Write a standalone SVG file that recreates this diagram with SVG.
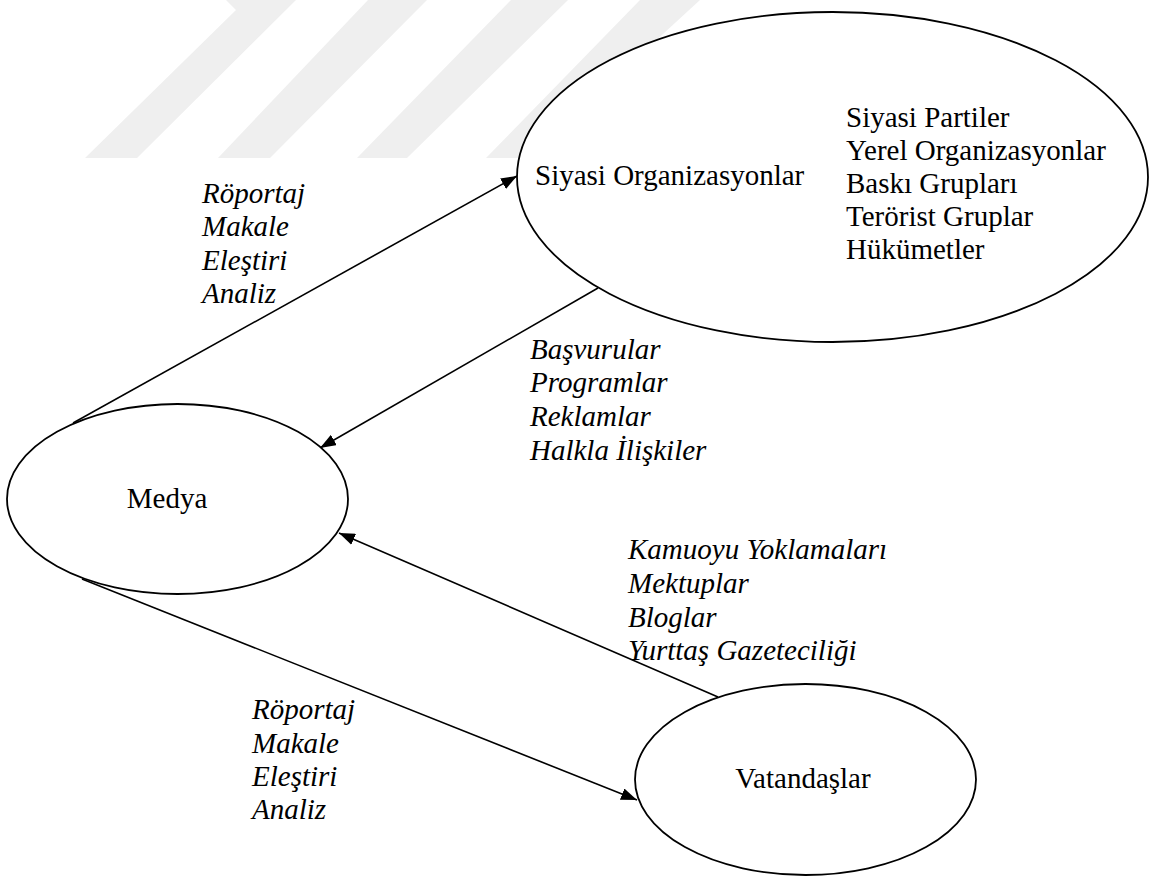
<svg xmlns="http://www.w3.org/2000/svg" width="1154" height="876" viewBox="0 0 1154 876">
  <style>
    .node { fill: #ffffff; stroke: #000000; stroke-width: 1.8; }
    .title { font-family: "Liberation Serif", "Times New Roman", serif; font-size: 29px; fill: #000000; }
    .label { font-family: "Liberation Serif", "Times New Roman", serif; font-size: 29px; font-style: italic; fill: #000000; }
    .edge { stroke: #000000; stroke-width: 1.6; fill: none; marker-end: url(#arrow); }
    .band { fill: #efefef; }
  </style>
  <defs>
    <marker id="arrow" viewBox="0 0 16 12" refX="16" refY="6" markerWidth="16" markerHeight="12" markerUnits="userSpaceOnUse" orient="auto">
      <path d="M0,0 L16,6 L0,12 z" fill="#000000"/>
    </marker>
  </defs>
  <rect width="1154" height="876" fill="#ffffff"/>

  <!-- background stripes -->
  <g id="stripes">
    <polygon class="band" points="226,0 296,0 137,158 85,158 236,10"/>
    <polygon class="band" points="368,0 427,0 270,158 218,158"/>
    <polygon class="band" points="511,0 568,0 407,158 357,158"/>
    <polygon class="band" points="640,0 700,0 528,158 486,158"/>
  </g>

  <!-- connectors -->
  <g id="connectors">
    <line class="edge" x1="73" y1="423" x2="517" y2="176"/>
    <line class="edge" x1="598" y1="288" x2="320" y2="448"/>
    <line class="edge" x1="718" y1="697" x2="339" y2="533"/>
    <line class="edge" x1="82" y1="579" x2="637" y2="800"/>
  </g>

  <!-- nodes -->
  <g id="siyasi-organizasyonlar">
    <ellipse class="node" cx="832.5" cy="177" rx="315.5" ry="165"/>
    <text class="title" x="535" y="185">Siyasi Organizasyonlar</text>
    <text class="title" x="846" y="127">Siyasi Partiler</text>
    <text class="title" x="846" y="160">Yerel Organizasyonlar</text>
    <text class="title" x="846" y="193">Baskı Grupları</text>
    <text class="title" x="846" y="226">Terörist Gruplar</text>
    <text class="title" x="846" y="259">Hükümetler</text>
  </g>

  <g id="medya">
    <ellipse class="node" cx="177.5" cy="499" rx="170.5" ry="95"/>
    <text class="title" x="167" y="508" text-anchor="middle">Medya</text>
  </g>

  <g id="vatandaslar">
    <ellipse class="node" cx="805.5" cy="779.5" rx="170.5" ry="95.5"/>
    <text class="title" x="803" y="788" text-anchor="middle">Vatandaşlar</text>
  </g>

  <!-- edge labels -->
  <g id="label-medya-siyasi">
    <text class="label" x="202" y="203">Röportaj</text>
    <text class="label" x="202" y="236">Makale</text>
    <text class="label" x="202" y="270">Eleştiri</text>
    <text class="label" x="202" y="303">Analiz</text>
  </g>
  <g id="label-siyasi-medya">
    <text class="label" x="530" y="359">Başvurular</text>
    <text class="label" x="530" y="392">Programlar</text>
    <text class="label" x="530" y="426">Reklamlar</text>
    <text class="label" x="530" y="460">Halkla İlişkiler</text>
  </g>
  <g id="label-vatandaslar-medya">
    <text class="label" x="628" y="559">Kamuoyu Yoklamaları</text>
    <text class="label" x="628" y="593">Mektuplar</text>
    <text class="label" x="628" y="627">Bloglar</text>
    <text class="label" x="628" y="660">Yurttaş Gazeteciliği</text>
  </g>
  <g id="label-medya-vatandaslar">
    <text class="label" x="252" y="719">Röportaj</text>
    <text class="label" x="252" y="753">Makale</text>
    <text class="label" x="252" y="786">Eleştiri</text>
    <text class="label" x="252" y="819">Analiz</text>
  </g>
</svg>
